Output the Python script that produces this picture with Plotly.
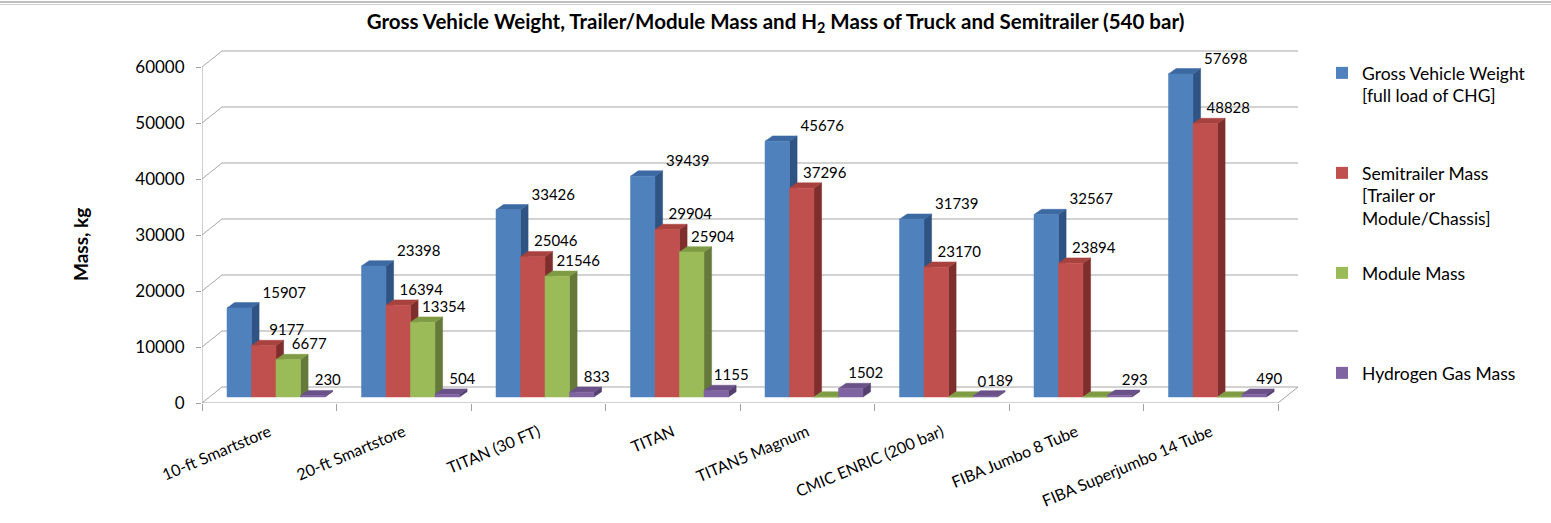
import plotly.graph_objects as go

# ---------------- data ----------------
categories = ["10-ft Smartstore", "20-ft Smartstore", "TITAN (30 FT)", "TITAN",
              "TITAN5 Magnum", "CMIC ENRIC (200 bar)", "FIBA Jumbo 8 Tube",
              "FIBA Superjumbo 14 Tube"]
gross_vehicle_weight = [15907, 23398, 33426, 39439, 45676, 31739, 32567, 57698]
semitrailer_mass = [9177, 16394, 25046, 29904, 37296, 23170, 23894, 48828]
module_mass = [6677, 13354, 21546, 25904, None, 0, None, None]
hydrogen_gas_mass = [230, 504, 833, 1155, 1502, 189, 293, 490]
y_tick_values = [0, 10000, 20000, 30000, 40000, 50000, 60000]
y_tick_labels = ["0", "10000", "20000", "30000", "40000", "50000", "60000"]

series_names = ["Gross Vehicle Weight<br>[full load of CHG]",
                "Semitrailer Mass<br>[Trailer or<br>Module/Chassis]",
                "Module Mass",
                "Hydrogen Gas Mass"]
series_values = [gross_vehicle_weight, semitrailer_mass, module_mass, hydrogen_gas_mass]

# ---------------- styling / geometry ----------------
FONT = "Lato, 'Open Sans', sans-serif"
front_colors = ["#4F81BD", "#C0504D", "#9BBB59", "#8064A2"]
top_colors = ["#3D69A3", "#A8423F", "#7F9C45", "#6A5289"]
side_colors = ["#2F5382", "#7E2E2C", "#64793A", "#54406F"]

PX_X = 134.5             # pixels per category
PX_Y = 336.0 / 60000.0   # pixels per kg
ux = lambda px: px / PX_X
uy = lambda px: px / PX_Y

bar_w = ux(24.5)
group_left = ux(25)
bar_base = uy(6)
depth_dx, depth_dy = ux(7.6), uy(5.3)
wall_dx, wall_dy = ux(20), uy(16)
label_dx = [ux(45), ux(23), ux(21), ux(15)]
label_dy = uy(14)

n = len(categories)
x_min, x_max = -0.5, n - 0.5 + wall_dx
W, H = 1551, 523
plot_top_px, plot_bottom_px, plot_left_px = 50, 403, 202
plot_h = plot_bottom_px - plot_top_px
y_max = uy(plot_h)
plot_w = (x_max - x_min) * PX_X

fig = go.Figure()

# bars (front / top / side faces), painted left to right
for i in range(n):
    for k, vals in enumerate(series_values):
        v = vals[i] if vals[i] is not None else 0
        x0 = i - 0.5 + group_left + k * bar_w
        x1 = x0 + bar_w
        yb, yt = bar_base, bar_base + v
        fig.add_trace(go.Scatter(
            x=[x1, x1 + depth_dx, x1 + depth_dx, x1, x1],
            y=[yb, yb + depth_dy, yt + depth_dy, yt, yb],
            fill="toself", fillcolor=side_colors[k], mode="lines",
            line=dict(width=0.5, color=side_colors[k]),
            showlegend=False, hoverinfo="skip"))
        fig.add_trace(go.Scatter(
            x=[x0, x1, x1 + depth_dx, x0 + depth_dx, x0],
            y=[yt, yt, yt + depth_dy, yt + depth_dy, yt],
            fill="toself", fillcolor=top_colors[k], mode="lines",
            line=dict(width=0.5, color=top_colors[k]),
            showlegend=False, hoverinfo="skip"))
        fig.add_trace(go.Scatter(
            x=[x0, x1, x1, x0, x0],
            y=[yb, yb, yt, yt, yb],
            fill="toself", fillcolor=front_colors[k], mode="lines",
            line=dict(width=0.5, color=front_colors[k]),
            showlegend=False, hoveron="fills",
            text=f"{categories[i]}: {vals[i]}", hoverinfo="text"))

# data labels
for k, vals in enumerate(series_values):
    xs, ys, ts = [], [], []
    for i, v in enumerate(vals):
        if v is None:
            continue
        xs.append(i - 0.5 + group_left + (k + 0.5) * bar_w + label_dx[k])
        ys.append(bar_base + v + label_dy)
        ts.append(str(v))
    fig.add_trace(go.Scatter(
        x=xs, y=ys, text=ts, mode="text", textposition="middle center",
        textfont=dict(family=FONT, size=15, color="#000000"),
        showlegend=False, hoverinfo="skip"))

# legend entries (padded to equal heights like the reference)
NB = "\u00a0"
legend_lines = 4
for k, name in enumerate(series_names):
    nlines = name.count("<br>") + 1
    pad = "".join("<br>" + NB for _ in range(legend_lines - nlines)) if k < len(series_names) - 1 else ""
    fig.add_trace(go.Bar(x=[None], y=[None], name=name + pad,
                         marker=dict(color=front_colors[k]),
                         legendgroup=str(k), showlegend=True, hoverinfo="skip"))

# walls, gridlines, floor
grid_col = "#A6A6A6"
shapes = []
for t in y_tick_values:
    shapes.append(dict(type="line", xref="x", yref="y", layer="below",
                       x0=-0.5 + wall_dx, x1=n - 0.5 + wall_dx, y0=t + wall_dy, y1=t + wall_dy,
                       line=dict(color=grid_col, width=1)))
    shapes.append(dict(type="line", xref="x", yref="y", layer="below",
                       x0=-0.5, x1=-0.5 + wall_dx, y0=t, y1=t + wall_dy,
                       line=dict(color=grid_col, width=1)))
shapes.append(dict(type="line", xref="x", yref="y", layer="below",
                   x0=-0.5, x1=n - 0.5, y0=0, y1=0, line=dict(color="#A0A0A0", width=1)))
shapes.append(dict(type="line", xref="x", yref="y", layer="below",
                   x0=n - 0.5, x1=n - 0.5 + wall_dx, y0=0, y1=wall_dy,
                   line=dict(color="#A0A0A0", width=1)))
shapes.append(dict(type="line", xref="x", yref="y", layer="below",
                   x0=-0.5, x1=-0.5, y0=0, y1=y_tick_values[-1],
                   line=dict(color="#A0A0A0", width=1)))
# top frame line of the chart area
for ypx, col, wd in [(2, "#A8A8A8", 1.5), (4.5, "#D0D0D0", 1)]:
    yy = 1 + (plot_top_px - ypx) / plot_h
    shapes.append(dict(type="line", xref="paper", yref="paper",
                       x0=-plot_left_px / plot_w, x1=(W - plot_left_px) / plot_w,
                       y0=yy, y1=yy, line=dict(color=col, width=wd)))

fig.update_layout(
    template="none",
    width=W, height=H,
    margin=dict(l=plot_left_px, r=W - plot_left_px - plot_w, t=plot_top_px, b=H - plot_bottom_px,
                autoexpand=False),
    paper_bgcolor="white", plot_bgcolor="white",
    font=dict(family=FONT, color="#000000"),
    title=dict(text="<b>Gross Vehicle Weight, Trailer/Module Mass and H<sub>2</sub> Mass of Truck and Semitrailer (540 bar)</b>",
               x=0.5, xref="container", xanchor="center",
               y=1 - 22 / H, yref="container", yanchor="middle",
               font=dict(family=FONT, size=20.5, color="#000000")),
    shapes=shapes,
    showlegend=True,
    legend=dict(x=(1322 - plot_left_px) / plot_w, xanchor="left",
                y=(plot_bottom_px - 55) / plot_h, yanchor="top",
                font=dict(family=FONT, size=17.5, color="#000000"),
                valign="top", tracegroupgap=6, bgcolor="rgba(0,0,0,0)"),
    annotations=[dict(text="<b>Mass, kg</b>", textangle=-90, showarrow=False,
                      xref="paper", yref="paper",
                      x=(80 - plot_left_px) / plot_w,
                      y=(plot_bottom_px - 245) / plot_h,
                      xanchor="center", yanchor="middle",
                      font=dict(family=FONT, size=19, color="#000000"))],
    hovermode="closest",
)

fig.update_xaxes(type="linear", range=[x_min, x_max], showgrid=False, zeroline=False,
                 showline=False, automargin=False,
                 tickmode="array", tickvals=list(range(n)), ticktext=categories,
                 ticks="", tickangle=-23, ticklabelstandoff=16,
                 tickfont=dict(family=FONT, size=16, color="#000000"),
                 minor=dict(tickmode="array", tickvals=[i - 0.5 for i in range(n + 1)],
                            ticks="outside", ticklen=7, tickcolor="#A0A0A0", showgrid=False),
                 fixedrange=True)
fig.update_yaxes(range=[0, y_max], showgrid=False, zeroline=False, showline=False, automargin=False,
                 tickmode="array", tickvals=y_tick_values, ticktext=y_tick_labels,
                 ticks="outside", ticklen=5,
                 tickcolor="#A0A0A0", ticklabelstandoff=8,
                 tickfont=dict(family=FONT, size=17, color="#000000"),
                 fixedrange=True)

fig.write_html("out.html", config={"displayModeBar": False},
               post_script="document.body.style.margin='0';")
